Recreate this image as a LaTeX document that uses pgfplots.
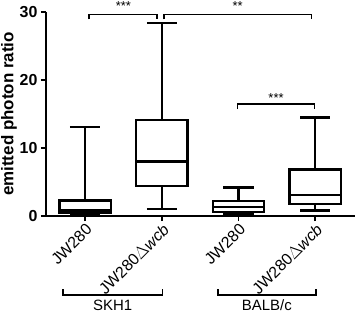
\documentclass[border=0pt]{standalone}
\usepackage{fontspec}
\setmainfont{Liberation Sans}
\usepackage{pgfplots}
\usepgfplotslibrary{statistics}
\pgfplotsset{compat=1.18}
\begin{document}
\begin{tikzpicture}
\useasboundingbox (-46bp,-96bp) rectangle (309bp,216bp);
\begin{axis}[
  at={(0,0)}, anchor=south west,
  scale only axis, width=309bp, height=204bp,
  xmin=-0.51, xmax=3.52, ymin=0, ymax=30,
  axis x line*=bottom, axis y line*=left,
  axis line style={line width=1.5bp},
  tick style={line width=1.5bp, black},
  tick align=outside, major tick length=5bp,
  ytick={0,10,20,30},
  xtick={0,1,2,3},
  xticklabels={JW280, JW280$\Delta$\textit{wcb}, JW280, JW280$\Delta$\textit{wcb}},
  x tick label style={rotate=45, anchor=north east, inner sep=1bp, font=\fontsize{16}{16}\selectfont},
  yticklabel style={font=\bfseries\fontsize{16}{16}\selectfont},
  /pgf/number format/assume math mode=true,
  ylabel={emitted photon ratio},
  ylabel style={at={([xshift=-37bp]axis description cs:0,0.5)}, anchor=center, font=\bfseries\fontsize{17}{17}\selectfont},
  boxplot/draw direction=y,
  clip=false,
]
\addplot[black, line width=2.4bp, boxplot prepared={draw position=0, lower whisker=0.2, lower quartile=0.5, median=0.9, upper quartile=2.3, upper whisker=13.1, box extend=0.67, whisker extend=0.4}] coordinates {};
\addplot[black, line width=2.4bp, boxplot prepared={draw position=1, lower whisker=1.0, lower quartile=4.4, median=8.0, upper quartile=14.1, upper whisker=28.4, box extend=0.67, whisker extend=0.39}] coordinates {};
\addplot[black, line width=2.4bp, boxplot prepared={draw position=2, lower whisker=0.2, lower quartile=0.6, median=1.3, upper quartile=2.2, upper whisker=4.2, box extend=0.67, whisker extend=0.4}] coordinates {};
\addplot[black, line width=2.4bp, boxplot prepared={draw position=3, lower whisker=0.8, lower quartile=1.8, median=3.1, upper quartile=6.85, upper whisker=14.5, box extend=0.67, whisker extend=0.39}] coordinates {};
% significance brackets
\draw[line width=1.5bp] (axis cs:0.05,28.9) |- (axis cs:0.935,29.6) -- (axis cs:0.935,28.9);
\draw[line width=1.5bp] (axis cs:1.03,28.9) |- (axis cs:2.95,29.6) -- (axis cs:2.95,28.9);
\draw[line width=1.5bp] (axis cs:1.99,15.7) |- (axis cs:2.99,16.45) -- (axis cs:2.99,15.7);
\node[anchor=base, font=\fontsize{13}{13}\selectfont] at (axis cs:0.5,30.15) {***};
\node[anchor=base, font=\fontsize{13}{13}\selectfont] at (axis cs:1.99,30.15) {**};
\node[anchor=base, font=\fontsize{13}{13}\selectfont] at (axis cs:2.49,16.7) {***};
% group brackets
\draw[line width=1.5bp] ([yshift=-73bp]axis cs:-0.29,0) |- ([yshift=-79bp]axis cs:1.01,0) -- ([yshift=-73bp]axis cs:1.01,0);
\draw[line width=1.5bp] ([yshift=-73bp]axis cs:1.73,0) |- ([yshift=-79bp]axis cs:3.01,0) -- ([yshift=-73bp]axis cs:3.01,0);
\node[anchor=base, font=\fontsize{15}{15}\selectfont] at ([yshift=-94.5bp]axis cs:0.36,0) {SKH1};
\node[anchor=base, font=\fontsize{15}{15}\selectfont] at ([yshift=-94.5bp]axis cs:2.37,0) {BALB/c};
\end{axis}
\end{tikzpicture}
\end{document}
